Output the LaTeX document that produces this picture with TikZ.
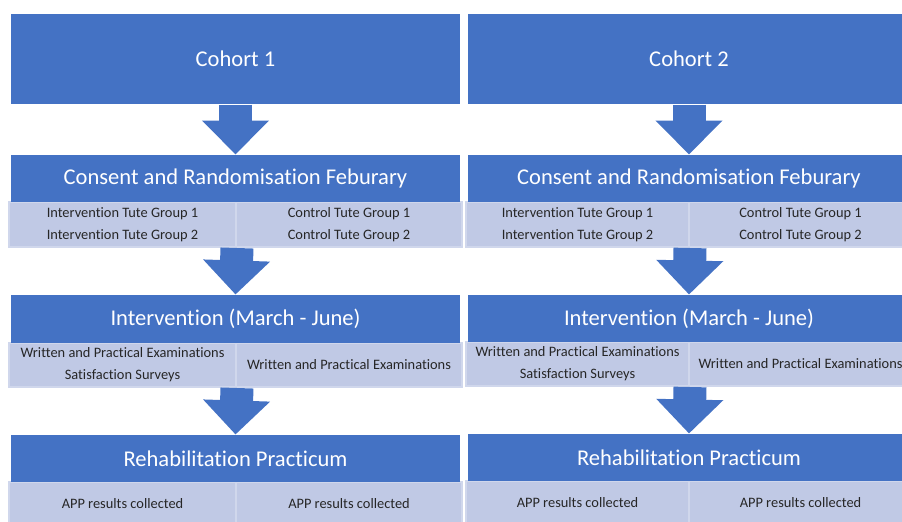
\documentclass[tikz,border=0pt]{standalone}
\usepackage{fontspec}
\setmainfont[Ligatures={NoCommon}]{Carlito}
\usetikzlibrary{arrows.meta}

\definecolor{hdrblue}{HTML}{4472C4}
\definecolor{cellfill}{HTML}{C0C9E5}
\definecolor{cellline}{HTML}{D0D7EC}
\definecolor{celltext}{HTML}{262626}

\tikzset{every picture/.style={line width=0.75pt}}
\tikzset{
	header/.style={fill=hdrblue, text=white, inner sep=0pt, font=\fontsize{16.9}{20}\selectfont},
	cell/.style={fill=cellfill, draw=cellline, line width=1.5pt, inner sep=0pt, align=center, text=celltext, font=\fontsize{10.8}{16.3}\selectfont},
	blockarrow/.style={draw=hdrblue, line width=24.75pt, -{Triangle[width=48.75pt, length=25.5pt]}}
}

\begin{document}
\begin{tikzpicture}[x=0.75pt,y=0.75pt,yscale=-1,xscale=1]
	\useasboundingbox (0,0) rectangle (902,521);
	\clip (0,0) rectangle (902,521);
	
	%Shape: Rectangle [Cohort 1]
	\node [header, minimum width=336.75pt, minimum height=67.5pt] (cohortA) at (235.5,59) {Cohort 1};
	%Shape: Rectangle [Cohort 2]
	\node [header, minimum width=331.5pt, minimum height=67.5pt] (cohortB) at (689,59) {Cohort 2};
	
	% Table rows
	\node [cell, minimum width=170.25pt, minimum height=33.75pt] (grpAl) at (122.5,224.5) {Intervention Tute Group 1\\Intervention Tute Group 2};
	\node [cell, minimum width=169.5pt, minimum height=33.75pt] (grpAr) at (349,224.5) {Control Tute Group 1\\Control Tute Group 2};
	\node [cell, minimum width=167.25pt, minimum height=33.75pt] (grpBl) at (577.5,224.5) {Intervention Tute Group 1\\Intervention Tute Group 2};
	\node [cell, minimum width=167.25pt, minimum height=33.75pt] (grpBr) at (800.5,224.5) {Control Tute Group 1\\Control Tute Group 2};
	
	\node [cell, minimum width=170.25pt, minimum height=33pt] (examAl) at (122.5,365) {Written and Practical Examinations\\Satisfaction Surveys};
	\node [cell, minimum width=169.5pt, minimum height=33pt] (examAr) at (349,365) {Written and Practical Examinations};
	\node [cell, minimum width=167.25pt, minimum height=33pt] (examBl) at (577.5,364) {Written and Practical Examinations\\Satisfaction Surveys};
	\node [cell, minimum width=167.25pt, minimum height=33pt] (examBr) at (800.5,364) {Written and Practical Examinations};
	
	\node [cell, minimum width=170.25pt, minimum height=32.25pt] (appAl) at (122.5,503.5) {APP results collected};
	\node [cell, minimum width=169.5pt, minimum height=32.25pt] (appAr) at (349,503.5) {APP results collected};
	\node [cell, minimum width=167.25pt, minimum height=32.25pt] (appBl) at (577.5,502.5) {APP results collected};
	\node [cell, minimum width=167.25pt, minimum height=32.25pt] (appBr) at (800.5,502.5) {APP results collected};
	
	% Headers
	\node [header, minimum width=336.75pt, minimum height=35.25pt] (consA) at (235.5,178.5) {Consent and Randomisation Feburary};
	\node [header, minimum width=331.5pt, minimum height=35.25pt] (consB) at (689,178.5) {Consent and Randomisation Feburary};
	\node [header, minimum width=336.75pt, minimum height=36pt] (intvA) at (235.5,319) {Intervention (March - June)};
	\node [header, minimum width=331.5pt, minimum height=35.25pt] (intvB) at (689,318.5) {Intervention (March - June)};
	\node [header, minimum width=336.75pt, minimum height=35.25pt] (rehabA) at (235.5,458.5) {Rehabilitation Practicum};
	\node [header, minimum width=331.5pt, minimum height=35.25pt] (rehabB) at (689,457.5) {Rehabilitation Practicum};
	
	%Block Arrows
	\draw [blockarrow] (cohortA.south) -- (consA.north);
	\draw [blockarrow] (cohortB.south) -- (consB.north);
	\draw [blockarrow] (grpAl.south east) -- (intvA.north);
	\draw [blockarrow] (grpBl.south east) -- (intvB.north);
	\draw [blockarrow] (examAl.south east) -- (rehabA.north);
	\draw [blockarrow] (examBl.south east) -- (rehabB.north);
	
\end{tikzpicture}
\end{document}
